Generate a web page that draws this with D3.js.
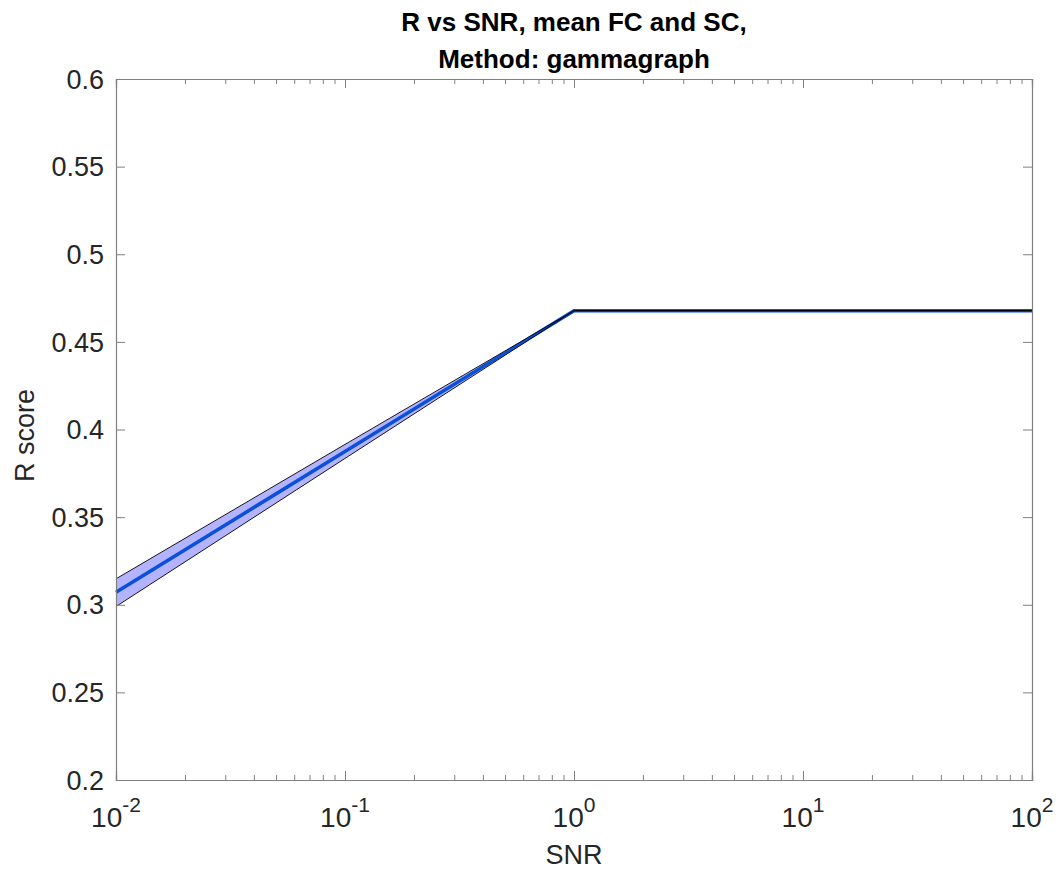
<!DOCTYPE html>
<html>
<head>
<meta charset="utf-8">
<script src="https://cdn.jsdelivr.net/npm/d3@7"></script>
<style>
  html, body { margin: 0; padding: 0; background: #fff; }
  svg { display: block; font-family: "Liberation Sans", Arial, Helvetica, sans-serif; }
</style>
</head>
<body>
<svg id="chart" width="1059" height="871"></svg>
<script>
// SNR levels and the R score (mean with lower/upper band)
const snr      = [0.01, 0.1, 1, 10, 100];
const rMean    = [0.3071, 0.3875, 0.4678, 0.4678, 0.4678];
const rLower   = [0.2990, 0.3835, 0.46775, 0.46775, 0.46775];
const rUpper   = [0.3148, 0.3915, 0.46785, 0.46785, 0.46785];

const xTickVals = [0.01, 0.1, 1, 10, 100];
const xTickExps = ["-2", "-1", "0", "1", "2"];
const yTickVals = [0.2, 0.25, 0.3, 0.35, 0.4, 0.45, 0.5, 0.55, 0.6];
const yTickText = ["0.2", "0.25", "0.3", "0.35", "0.4", "0.45", "0.5", "0.55", "0.6"];

const titleLines = ["R vs SNR, mean FC and SC,", "Method: gammagraph"];

const margin = { left: 116, right: 27, top: 79, bottom: 91 };
const W = 1059, H = 871;
const iw = W - margin.left - margin.right;
const ih = H - margin.top - margin.bottom;

const svg = d3.select("#chart");
const g = svg.append("g").attr("transform", `translate(${margin.left},${margin.top})`);

const x = d3.scaleLog().domain([0.01, 100]).range([0, iw]);
const y = d3.scaleLinear().domain([0.2, 0.6]).range([ih, 0]);

const pts = snr.map((s, i) => ({ s, m: rMean[i], lo: rLower[i], hi: rUpper[i] }));

// shaded band
g.append("path")
  .datum(pts)
  .attr("fill", "#b3b3ff")
  .attr("stroke", "none")
  .attr("d", d3.area().x(d => x(d.s)).y0(d => y(d.lo)).y1(d => y(d.hi)));

// mean line
g.append("path")
  .datum(pts)
  .attr("fill", "none")
  .attr("stroke", "#0a50d8")
  .attr("stroke-width", 3.5)
  .attr("d", d3.line().x(d => x(d.s)).y(d => y(d.m)));

// band edges
["lo", "hi"].forEach(k => {
  g.append("path")
    .datum(pts)
    .attr("fill", "none")
    .attr("stroke", "#000")
    .attr("stroke-width", 0.9)
    .attr("d", d3.line().x(d => x(d.s)).y(d => y(d[k])));
});

// axes box and ticks
const axisColor = "#808080";
const minorVals = [];
for (let e = -2; e < 2; e++) {
  for (let m = 2; m <= 9; m++) minorVals.push(m * Math.pow(10, e));
}

const xBottom = g.append("g").attr("transform", `translate(0,${ih})`)
  .call(d3.axisBottom(x).tickValues(xTickVals).tickSize(-9).tickFormat(""));
const xBottomMinor = g.append("g").attr("transform", `translate(0,${ih})`)
  .call(d3.axisBottom(x).tickValues(minorVals).tickSize(-5).tickFormat(""));
const xTop = g.append("g")
  .call(d3.axisTop(x).tickValues(xTickVals).tickSize(-9).tickFormat(""));
const xTopMinor = g.append("g")
  .call(d3.axisTop(x).tickValues(minorVals).tickSize(-5).tickFormat(""));
const yLeft = g.append("g")
  .call(d3.axisLeft(y).tickValues(yTickVals).tickSize(-9).tickFormat(""));
const yRight = g.append("g").attr("transform", `translate(${iw},0)`)
  .call(d3.axisRight(y).tickValues(yTickVals).tickSize(-9).tickFormat(""));

[xBottom, xBottomMinor, xTop, xTopMinor, yLeft, yRight].forEach(a => {
  a.selectAll("path").attr("stroke", axisColor).attr("stroke-width", 1.2);
  a.selectAll("line").attr("stroke", axisColor).attr("stroke-width", 1);
});

// y tick labels
g.append("g").selectAll("text")
  .data(yTickVals)
  .join("text")
  .attr("x", -12)
  .attr("y", d => y(d))
  .attr("dy", "0.36em")
  .attr("text-anchor", "end")
  .attr("font-size", 27)
  .attr("fill", "#262626")
  .text((d, i) => yTickText[i]);

// x tick labels as 10 with superscript exponent
const xl = g.append("g").selectAll("text")
  .data(xTickVals)
  .join("text")
  .attr("x", d => x(d))
  .attr("y", ih + 47)
  .attr("text-anchor", "middle")
  .attr("font-size", 28)
  .attr("fill", "#262626");
xl.append("tspan").text("10");
xl.append("tspan")
  .attr("dy", -15)
  .attr("font-size", 21)
  .text((d, i) => xTickExps[i]);

// axis titles
svg.append("text")
  .attr("x", margin.left + iw / 2)
  .attr("y", 864)
  .attr("text-anchor", "middle")
  .attr("font-size", 27)
  .attr("fill", "#262626")
  .text("SNR");

svg.append("text")
  .attr("transform", `translate(34,${margin.top + ih / 2 + 6}) rotate(-90)`)
  .attr("text-anchor", "middle")
  .attr("font-size", 27)
  .attr("fill", "#262626")
  .text("R score");

// title
svg.append("g").selectAll("text")
  .data(titleLines)
  .join("text")
  .attr("x", margin.left + iw / 2)
  .attr("y", (d, i) => 31 + i * 37)
  .attr("text-anchor", "middle")
  .attr("font-size", 26)
  .attr("font-weight", "bold")
  .attr("fill", "#000")
  .text(d => d);
</script>
</body>
</html>
